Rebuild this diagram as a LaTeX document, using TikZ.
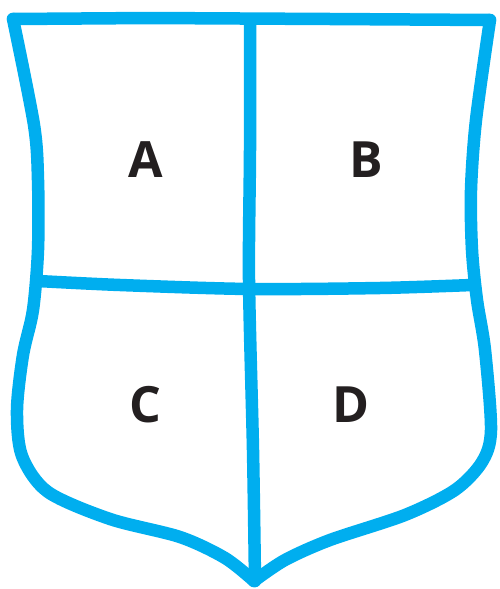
\documentclass[tikz,border=0pt]{standalone}
\usepackage{fontspec}
\setmainfont{Open Sans}
\definecolor{shieldblue}{HTML}{00AEEF}
\definecolor{ink}{HTML}{231F20}
\begin{document}
\begin{tikzpicture}[x=1pt,y=-1pt,
  edge/.style={draw=shieldblue,line width=12.5pt,line cap=round,line join=round},
  letter/.style={font=\fontsize{50}{50}\selectfont\bfseries,text=ink,inner sep=0pt}]
\useasboundingbox (0,0) rectangle (499,589);
% outline
\draw[edge] plot[smooth,tension=0.5] coordinates {(254,581) (225,558) (180,537) (110,519) (48,492) (22,456) (17,410) (23,355) (33,310) (38,250) (38,180) (34,125) (13,19)};
\draw[edge] (13,19) -- (150,18) -- (330,19) -- (490,20);
\draw[edge] plot[smooth,tension=0.5] coordinates {(490,20) (476,120) (471,190) (472,250) (477,300) (485,350) (491,430) (482,462) (455,490) (405,515) (330,540) (285,560) (254,581)};
% dividers
\draw[edge] plot[smooth,tension=0.5] coordinates {(38,281) (120,285) (250,289) (380,288) (472,285)};
\draw[edge] plot[smooth,tension=0.5] coordinates {(250,20) (250,150) (249,280) (253,450) (255,581)};
% labels
\node[letter] (A) at (146,160) {A};
\node[letter] (B) at (366,160) {B};
\node[letter] (C) at (145,405) {C};
\node[letter] (D) at (351,405) {D};
\end{tikzpicture}
\end{document}
